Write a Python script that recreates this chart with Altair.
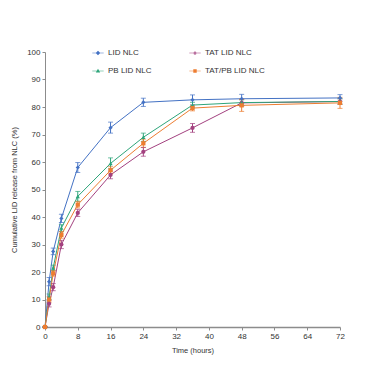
import altair as alt
import pandas as pd

time_h = [0, 1, 2, 4, 8, 16, 24, 36, 48, 72]
series = ["LID NLC", "TAT LID NLC", "PB LID NLC", "TAT/PB LID NLC"]
legend_order = ["LID NLC", "PB LID NLC", "TAT LID NLC", "TAT/PB LID NLC"]
lid = [0, 16.5, 27.5, 39.5, 58.0, 72.5, 81.7, 82.6, 83.0, 83.3]
lid_err = [0, 1.5, 1.2, 1.5, 1.8, 2.0, 1.5, 1.8, 1.6, 1.2]
tat = [0, 8.5, 14.5, 30.0, 41.5, 55.3, 63.7, 72.4, 81.5, 82.0]
tat_err = [0, 1.2, 1.3, 1.5, 1.3, 1.4, 1.6, 1.6, 1.2, 1.0]
pb = [0, 11.0, 21.5, 36.0, 47.5, 59.5, 69.0, 80.7, 81.6, 82.0]
pb_err = [0, 1.0, 1.0, 1.2, 1.8, 2.0, 1.5, 1.0, 1.0, 1.0]
tatpb = [0, 10.0, 19.5, 33.5, 44.5, 57.0, 66.8, 79.6, 80.6, 81.5]
tatpb_err = [0, 1.0, 1.0, 1.2, 1.2, 1.3, 1.5, 1.0, 2.2, 2.0]

colors = ["#4472C4", "#A3417F", "#2EA57A", "#ED7D31"]
shapes = ["diamond", "circle", "triangle-up", "square"]

# legend symbols: short line with the marker on it
bar = "M-1,-0.06H1V0.06H-1Z "
legend_shapes = [
    bar + "M0,-0.4L0.4,0L0,0.4L-0.4,0Z",
    bar + "M-0.28,0A0.28,0.28 0 1,0 0.28,0A0.28,0.28 0 1,0 -0.28,0Z",
    bar + "M0,-0.38L0.38,0.28L-0.38,0.28Z",
    bar + "M-0.3,-0.3H0.3V0.3H-0.3Z",
]

rows = []
for name, vals, errs in zip(series, [lid, tat, pb, tatpb], [lid_err, tat_err, pb_err, tatpb_err]):
    for t, v, e in zip(time_h, vals, errs):
        rows.append({"Time": t, "Value": v, "lo": v - e, "hi": v + e, "Series": name})
df = pd.DataFrame(rows)

font = "Liberation Sans"
axis_common = dict(grid=False, labelFontSize=8, titleFontSize=7.5, titleFontWeight="normal",
                   domainColor="#8c8c8c", tickColor="#8c8c8c", tickSize=3,
                   labelColor="#333", titleColor="#333", labelFont=font, titleFont=font,
                   labelOverlap=False, labelFlush=False)
xaxis = alt.Axis(values=list(range(0, 73, 8)), title="Time (hours)",
                 domainWidth=1.5, titlePadding=6, **axis_common)
yaxis = alt.Axis(values=list(range(0, 101, 10)), title="Cumulative LID release from NLC (%)",
                 titlePadding=8, **axis_common)
xscale = alt.Scale(domain=[0, 72], nice=False)
yscale = alt.Scale(domain=[0, 100], nice=False)
cscale = alt.Scale(domain=series, range=colors)
sscale = alt.Scale(domain=series, range=legend_shapes)
leg = alt.Legend(title=None, orient="none", legendX=47, legendY=-5, padding=0,
                 columns=2, columnPadding=37, rowPadding=8, values=legend_order,
                 labelFontSize=8, labelFont=font, labelColor="#333",
                 symbolSize=130, symbolStrokeWidth=0, symbolOpacity=1, labelLimit=200)

base = alt.Chart(df)
xq = alt.X("Time:Q", scale=xscale, axis=xaxis)
col = alt.Color("Series:N", scale=cscale, legend=leg, sort=series)
lines = base.mark_line(strokeWidth=1).encode(
    x=xq, y=alt.Y("Value:Q", scale=yscale, axis=yaxis), color=col)
errs = base.mark_errorbar(ticks=True, thickness=1).encode(
    x=xq, y=alt.Y("lo:Q", scale=yscale, axis=yaxis), y2="hi:Q", color=col)
point_layers = []
for name, shp in zip(series, shapes):
    point_layers.append(
        base.transform_filter(alt.datum.Series == name).mark_point(
            filled=True, size=18, opacity=1, shape=shp).encode(
            x=xq, y=alt.Y("Value:Q", scale=yscale, axis=yaxis), color=col))
legend_layer = base.mark_point(filled=True, opacity=0).encode(
    x=xq, y=alt.Y("Value:Q", scale=yscale, axis=yaxis),
    color=col,
    shape=alt.Shape("Series:N", scale=sscale, legend=leg, sort=series),
    size=alt.value(130))

chart = alt.layer(lines, errs, *point_layers, legend_layer).properties(
    width=295, height=275,
    autosize=alt.AutoSizeParams(type="none"),
    padding={"left": 37, "top": 44, "right": 36, "bottom": 44},
).configure_view(stroke=None)

chart.save("out.html", embed_options={"renderer": "svg", "actions": False})
